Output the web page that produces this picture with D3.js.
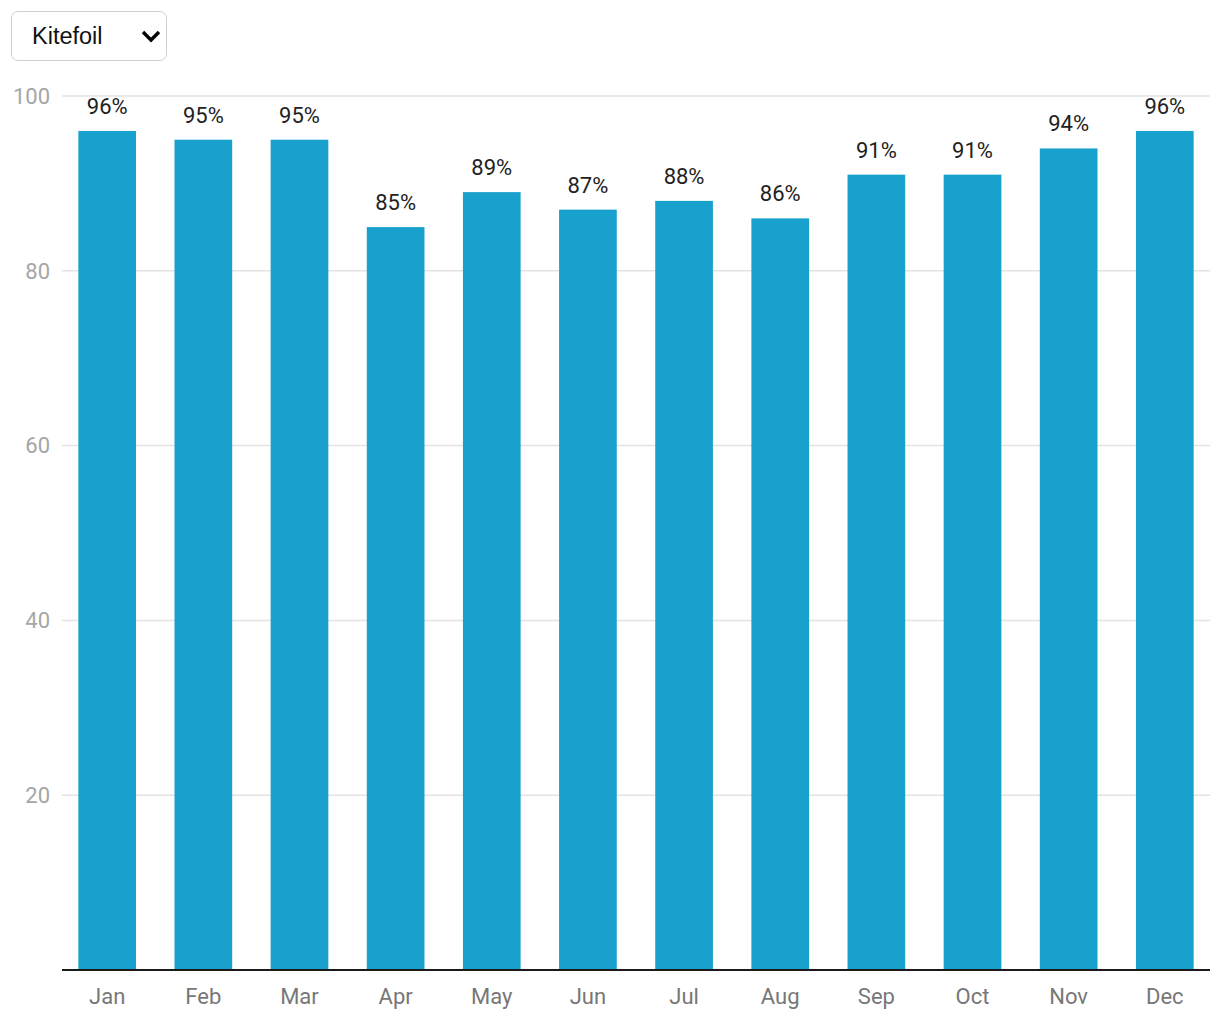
<!DOCTYPE html>
<html>
<head>
<meta charset="utf-8">
<script src="https://cdn.jsdelivr.net/npm/d3@7"></script>
<style>
  body { margin: 0; background: #fff; font-family: Roboto, sans-serif; }
  .picker {
    position: absolute; left: 11px; top: 11px; width: 154px; height: 48px;
    border: 1px solid #cfcfcf; border-radius: 7px; box-sizing: content-box;
    font-family: "Liberation Sans", Arial, sans-serif; font-size: 23.5px; color: #111;
  }
  .picker span { position: absolute; left: 20px; top: 11px; }
  .picker svg { position: absolute; left: 129px; top: 17px; }
  #chart { position: absolute; left: 0; top: 0; }
</style>
</head>
<body>
<div class="picker"><span>Kitefoil</span>
  <svg width="20" height="14"><path d="M2 3 L10 11 L18 3" fill="none" stroke="#000" stroke-width="3.4"/></svg>
</div>
<svg id="chart"></svg>
<script>
const months = ["Jan", "Feb", "Mar", "Apr", "May", "Jun", "Jul", "Aug", "Sep", "Oct", "Nov", "Dec"];
const values = [96, 95, 95, 85, 89, 87, 88, 86, 91, 91, 94, 96];
const yTicks = [20, 40, 60, 80, 100];

const width = 1220, height = 1020;
const margin = { top: 96, right: 10, bottom: 50, left: 62 };

const svg = d3.select("#chart")
    .attr("width", width)
    .attr("height", height);

const x = d3.scaleBand()
    .domain(months)
    .range([margin.left, width - margin.right])
    .paddingInner(0.4)
    .paddingOuter(0.17);

const y = d3.scaleLinear()
    .domain([0, 100])
    .range([height - margin.bottom, margin.top]);

// grid
svg.append("g")
    .selectAll("line")
    .data(yTicks)
    .enter().append("line")
    .attr("x1", margin.left)
    .attr("x2", width - margin.right)
    .attr("y1", d => y(d))
    .attr("y2", d => y(d))
    .attr("stroke", "#e3e3e3")
    .attr("stroke-width", 1.5);

// y tick labels
svg.append("g")
    .selectAll("text")
    .data(yTicks)
    .enter().append("text")
    .attr("x", 50)
    .attr("y", d => y(d))
    .attr("dy", "0.35em")
    .attr("text-anchor", "end")
    .style("font-size", "22px")
    .style("fill", "#a6a6a6")
    .text(d => d);

// bars
svg.append("g")
    .selectAll("rect")
    .data(values)
    .enter().append("rect")
    .attr("x", (d, i) => x(months[i]))
    .attr("y", d => y(d))
    .attr("width", x.bandwidth())
    .attr("height", d => y(0) - y(d))
    .attr("fill", "#18a1cd");

// value labels
svg.append("g")
    .selectAll("text")
    .data(values)
    .enter().append("text")
    .attr("x", (d, i) => x(months[i]) + x.bandwidth() / 2)
    .attr("y", d => y(d) - 17)
    .attr("text-anchor", "middle")
    .style("font-size", "22px")
    .style("fill", "#222")
    .text(d => d + "%");

// baseline
svg.append("line")
    .attr("x1", margin.left)
    .attr("x2", width - margin.right)
    .attr("y1", y(0))
    .attr("y2", y(0))
    .attr("stroke", "#1a1a1a")
    .attr("stroke-width", 2);

// x labels
svg.append("g")
    .selectAll("text")
    .data(months)
    .enter().append("text")
    .attr("x", d => x(d) + x.bandwidth() / 2)
    .attr("y", y(0) + 34)
    .attr("text-anchor", "middle")
    .style("font-size", "22px")
    .style("fill", "#777")
    .text(d => d);
</script>
</body>
</html>
